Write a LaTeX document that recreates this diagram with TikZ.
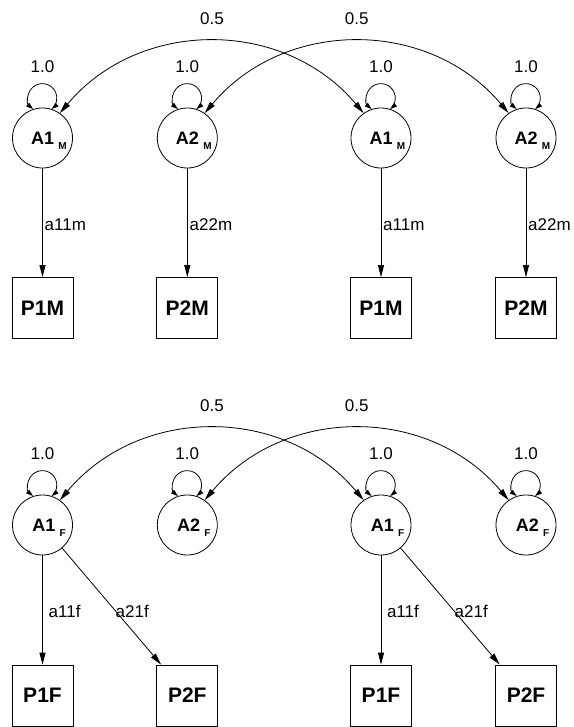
\documentclass[tikz,border=0pt]{standalone}
\usepackage{fontspec}
\setmainfont{Liberation Sans}
\usetikzlibrary{arrows.meta}
\newcommand{\latname}[2]{\hspace{13pt}{\fontsize{18}{21}\selectfont\bfseries #1}\hspace{4.3pt}\raisebox{-5pt}[0pt][0pt]{\fontsize{10}{12}\selectfont\bfseries #2}}
\tikzset{
  latent/.style={circle, draw, line width=0.8pt, minimum size=60pt, inner sep=0pt},
  manifest/.style={rectangle, draw, line width=0.8pt, minimum size=61pt, inner sep=0pt, font=\fontsize{21}{25}\selectfont\bfseries},
  lbl/.style={font=\fontsize{17}{20}\selectfont, inner sep=0pt},
  pathar/.style={line width=0.8pt, -{Triangle[length=12pt,width=6pt]}},
  covar/.style={line width=0.8pt, {Triangle[length=12pt,width=6pt]}-{Triangle[length=12pt,width=6pt]}},
  varloop/.style={line width=0.8pt, {Triangle[length=7pt,width=4.5pt]}-{Triangle[length=7pt,width=4.5pt]}},
}
\begin{document}
\begin{tikzpicture}[x=1pt,y=1pt]
\useasboundingbox (0,0) rectangle (573,-727);
% ---------- top (M) ----------
\node[latent] (A1Ml) at (42.5,-138) {\latname{A1}{M}};
\node[latent] (A2Ml) at (187.3,-138) {\latname{A2}{M}};
\node[latent] (A1Mr) at (381,-138) {\latname{A1}{M}};
\node[latent] (A2Mr) at (526,-138) {\latname{A2}{M}};
\node[manifest] (P1Ml) at (42.5,-308) {P1M};
\node[manifest] (P2Ml) at (187.3,-308) {P2M};
\node[manifest] (P1Mr) at (381,-308) {P1M};
\node[manifest] (P2Mr) at (526,-308) {P2M};
\draw[pathar] (A1Ml) -- (P1Ml);
\draw[pathar] (A2Ml) -- (P2Ml);
\draw[pathar] (A1Mr) -- (P1Mr);
\draw[pathar] (A2Mr) -- (P2Mr);
\node[lbl, anchor=west] (l1) at (44.5,-225) {a11m};
\node[lbl, anchor=west] (l2) at (189.5,-225) {a22m};
\node[lbl, anchor=west] (l3) at (383,-225) {a11m};
\node[lbl, anchor=west] (l4) at (528,-225) {a22m};
\foreach \n in {A1Ml,A2Ml,A1Mr,A2Mr}{
  \draw[varloop] (\n.108) arc[start angle=230, end angle=-50, radius=14.42];
  \node[lbl] (v\n) at ([yshift=71pt]\n.center) {1.0};
}
\draw[covar] (A1Mr.125) .. controls +(130:124) and +(50:124) .. (A1Ml.55);
\draw[covar] (A2Mr.125) .. controls +(130:124) and +(50:124) .. (A2Ml.55);
\node[lbl] (c1) at (212,-18.7) {0.5};
\node[lbl] (c2) at (356.7,-18.7) {0.5};
% ---------- bottom (F) ----------
\node[latent] (A1Fl) at (42.5,-525) {\latname{A1}{F}};
\node[latent] (A2Fl) at (187.3,-525) {\latname{A2}{F}};
\node[latent] (A1Fr) at (381,-525) {\latname{A1}{F}};
\node[latent] (A2Fr) at (526,-525) {\latname{A2}{F}};
\node[manifest] (P1Fl) at (42.5,-695.5) {P1F};
\node[manifest] (P2Fl) at (187.3,-695.5) {P2F};
\node[manifest] (P1Fr) at (381,-695.5) {P1F};
\node[manifest] (P2Fr) at (526,-695.5) {P2F};
\draw[pathar] (A1Fl) -- (P1Fl);
\draw[pathar] (A1Fl) -- (P2Fl);
\draw[pathar] (A1Fr) -- (P1Fr);
\draw[pathar] (A1Fr) -- (P2Fr);
\node[lbl, anchor=west] (m1) at (48.5,-611.7) {a11f};
\node[lbl, anchor=west] (m2) at (115.5,-611.7) {a21f};
\node[lbl, anchor=west] (m3) at (386.8,-611.7) {a11f};
\node[lbl, anchor=west] (m4) at (454.5,-611.7) {a21f};
\foreach \n in {A1Fl,A2Fl,A1Fr,A2Fr}{
  \draw[varloop] (\n.108) arc[start angle=230, end angle=-50, radius=14.42];
  \node[lbl] (v\n) at ([yshift=71.2pt]\n.center) {1.0};
}
\draw[covar] (A1Fr.125) .. controls +(130:124) and +(50:124) .. (A1Fl.55);
\draw[covar] (A2Fr.125) .. controls +(130:124) and +(50:124) .. (A2Fl.55);
\node[lbl] (d1) at (212,-405.3) {0.5};
\node[lbl] (d2) at (356.7,-405.3) {0.5};
\end{tikzpicture}
\end{document}
